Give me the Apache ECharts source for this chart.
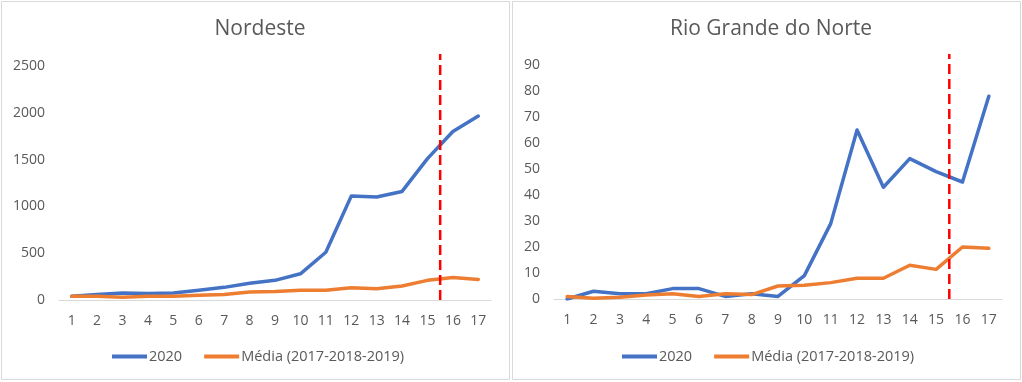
<!DOCTYPE html>
<html>
<head>
<meta charset="utf-8">
<script src="https://cdn.jsdelivr.net/npm/echarts@6/dist/echarts.min.js"></script>
<style>
html,body{margin:0;padding:0;background:#fff;}
#c{width:1022px;height:382px;}
</style>
</head>
<body>
<div id="c"></div>
<script>
const categories = ['1','2','3','4','5','6','7','8','9','10','11','12','13','14','15','16','17'];
const nordeste2020 = [40, 60, 75, 70, 75, 105, 135, 180, 210, 280, 510, 1110, 1100, 1160, 1510, 1800, 1965];
const nordesteMedia = [40, 40, 30, 40, 40, 50, 60, 85, 90, 105, 105, 130, 120, 150, 210, 240, 220];
const rn2020 = [0, 3, 2, 2, 4, 4, 1, 2, 1, 9, 29, 65, 43, 54, 49, 45, 78];
const rnMedia = [1, 0.3, 0.7, 1.5, 2, 1, 2, 1.7, 5, 5.3, 6.3, 8, 8, 13, 11.4, 20, 19.5];
const nordesteTicks = [0, 500, 1000, 1500, 2000, 2500];
const rnTicks = [0, 10, 20, 30, 40, 50, 60, 70, 80, 90];
const cutoff = 15.5;
const titles = ['Nordeste', 'Rio Grande do Norte'];
const seriesNames = ['2020', 'Média (2017-2018-2019)'];

const FONT = '"Open Sans", sans-serif';
const TXT = '#595959';
const chart = echarts.init(document.getElementById('c'), null, {renderer: 'canvas'});

function catX(gi) {
  return {
    type: 'category', gridIndex: gi, data: categories, boundaryGap: true,
    axisLine: {lineStyle: {color: '#d9d9d9', width: 1}},
    axisTick: {show: false},
    axisLabel: {color: TXT, fontFamily: FONT, fontSize: 14, margin: 14, interval: 0}
  };
}
function valY(gi, ticks) {
  return {
    type: 'value', gridIndex: gi, min: ticks[0], max: ticks[ticks.length - 1],
    interval: ticks[1] - ticks[0],
    axisLine: {show: false}, axisTick: {show: false}, splitLine: {show: false},
    axisLabel: {color: TXT, fontFamily: FONT, fontSize: 14, margin: 14, formatter: function (v) { return String(v); }}
  };
}
function hiddenX(gi) {
  return {type: 'value', gridIndex: gi, min: 0.5, max: categories.length + 0.5, show: false};
}
function hiddenY(gi) {
  return {type: 'value', gridIndex: gi, min: 0, max: 1, show: false};
}
function lineSeries(name, data, color, xi, yi) {
  return {
    name: name, type: 'line', data: data, xAxisIndex: xi, yAxisIndex: yi,
    showSymbol: false, symbol: 'none', smooth: false,
    lineStyle: {color: color, width: 3.5, cap: 'round', join: 'round'},
    itemStyle: {color: color}, z: 3
  };
}
function dashSeries(xi, yi) {
  return {
    type: 'line', data: [[cutoff, 0], [cutoff, 1]], xAxisIndex: xi, yAxisIndex: yi,
    showSymbol: false, symbol: 'none', silent: true,
    lineStyle: {color: '#ff0000', width: 2.5, type: [10, 5]}, z: 4
  };
}
function legend(cx) {
  return {
    data: seriesNames, left: cx, top: 349, padding: 0, icon: 'rect', itemWidth: 35, itemHeight: 4,
    itemGap: 22, textStyle: {color: TXT, fontFamily: FONT, fontSize: 14.5, padding: [0, 0, 0, -3]}
  };
}

const option = {
  animation: false,
  backgroundColor: '#ffffff',
  graphic: [
    {type: 'rect', shape: {x: 1.5, y: 1.5, width: 508, height: 378}, style: {fill: 'none', stroke: '#d9d9d9', lineWidth: 1}},
    {type: 'rect', shape: {x: 512.5, y: 1.5, width: 508, height: 378}, style: {fill: 'none', stroke: '#d9d9d9', lineWidth: 1}}
  ],
  title: [
    {text: titles[0], left: 255, top: 14, textAlign: 'center', textStyle: {color: TXT, fontFamily: FONT, fontSize: 21, fontWeight: 'normal'}},
    {text: titles[1], left: 766, top: 14, textAlign: 'center', textStyle: {color: TXT, fontFamily: FONT, fontSize: 21, fontWeight: 'normal'}}
  ],
  legend: [legend(112), legend(622)],
  grid: [
    {left: 59, top: 66, width: 432, height: 234},
    {left: 554, top: 65, width: 448, height: 234},
    {left: 59, top: 54, width: 432, height: 246},
    {left: 554, top: 54, width: 448, height: 245}
  ],
  xAxis: [catX(0), catX(1), hiddenX(2), hiddenX(3)],
  yAxis: [valY(0, nordesteTicks), valY(1, rnTicks), hiddenY(2), hiddenY(3)],
  series: [
    lineSeries(seriesNames[0], nordeste2020, '#4472c4', 0, 0),
    lineSeries(seriesNames[1], nordesteMedia, '#ed7d31', 0, 0),
    lineSeries(seriesNames[0], rn2020, '#4472c4', 1, 1),
    lineSeries(seriesNames[1], rnMedia, '#ed7d31', 1, 1),
    dashSeries(2, 2),
    dashSeries(3, 3)
  ]
};
chart.setOption(option);
</script>
</body>
</html>
